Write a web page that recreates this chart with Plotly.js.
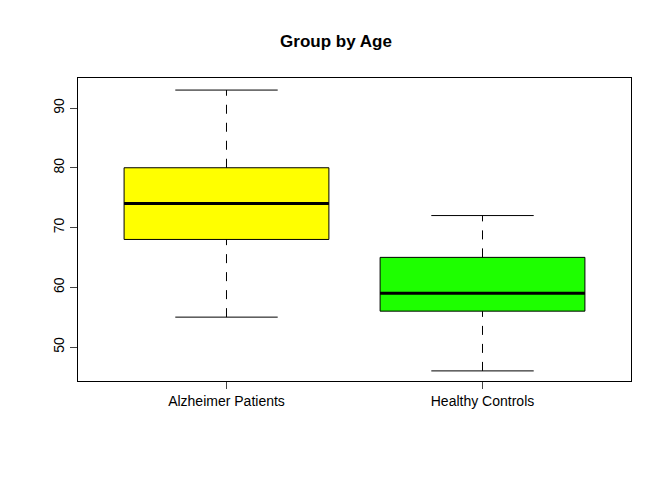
<html><head><script src="https://cdn.plot.ly/plotly-3.0.1.min.js"></script></head><body style="margin:0">
<div id="c" style="width:672px;height:480px"></div>
<script>
const categories = ["Alzheimer Patients", "Healthy Controls"];
const mins = [55, 46];
const q1s = [68, 56];
const medians = [74, 59];
const q3s = [80, 65];
const maxs = [93, 72];
const colors = ["#FFFF00", "#1EFF00"];
const yTicks = [50, 60, 70, 80, 90];

const pos = categories.map((_, i) => i + 1);
const traces = [];
pos.forEach((p, i) => {
  traces.push({type:'box', x:[p], q1:[q1s[i]], median:[medians[i]], q3:[q3s[i]],
    lowerfence:[q1s[i]], upperfence:[q3s[i]], width:0.8, whiskerwidth:0,
    fillcolor:colors[i], line:{color:'black', width:1}, hoverinfo:'skip', showlegend:false});
  traces.push({type:'scatter', mode:'lines', x:[p,p,null,p,p], y:[mins[i],q1s[i],null,q3s[i],maxs[i]],
    line:{color:'black', width:1, dash:'dash'}, showlegend:false, hoverinfo:'skip'});
  traces.push({type:'scatter', mode:'lines', x:[p-0.2,p+0.2,null,p-0.2,p+0.2], y:[mins[i],mins[i],null,maxs[i],maxs[i]],
    line:{color:'black', width:1}, showlegend:false, hoverinfo:'skip'});
  traces.push({type:'scatter', mode:'lines', x:[p-0.4,p+0.4], y:[medians[i],medians[i]],
    line:{color:'black', width:3}, showlegend:false, hoverinfo:'skip'});
});
Plotly.newPlot('c', traces, {
  width:672, height:480, margin:{l:78, r:41, t:78, b:99},
  paper_bgcolor:'white', plot_bgcolor:'white',
  font:{family:'Liberation Sans, Arial', size:14, color:'black'},
  title:{text:'<b>Group by Age</b>', x:0.5, xanchor:'center', y:1-41/480, yanchor:'middle', font:{size:17}},
  xaxis:{range:[0.42,2.58], tickvals:pos, ticktext:categories, ticks:'outside', ticklen:7,
    showgrid:false, zeroline:false, showline:true, mirror:true, linecolor:'black', linewidth:1},
  yaxis:{range:[44.31,95.02], tickvals:yTicks, tickangle:-90, ticks:'outside', ticklen:7,
    showgrid:false, zeroline:false, showline:true, mirror:true, linecolor:'black', linewidth:1}
}, {displayModeBar:false, staticPlot:true});
</script></body></html>
